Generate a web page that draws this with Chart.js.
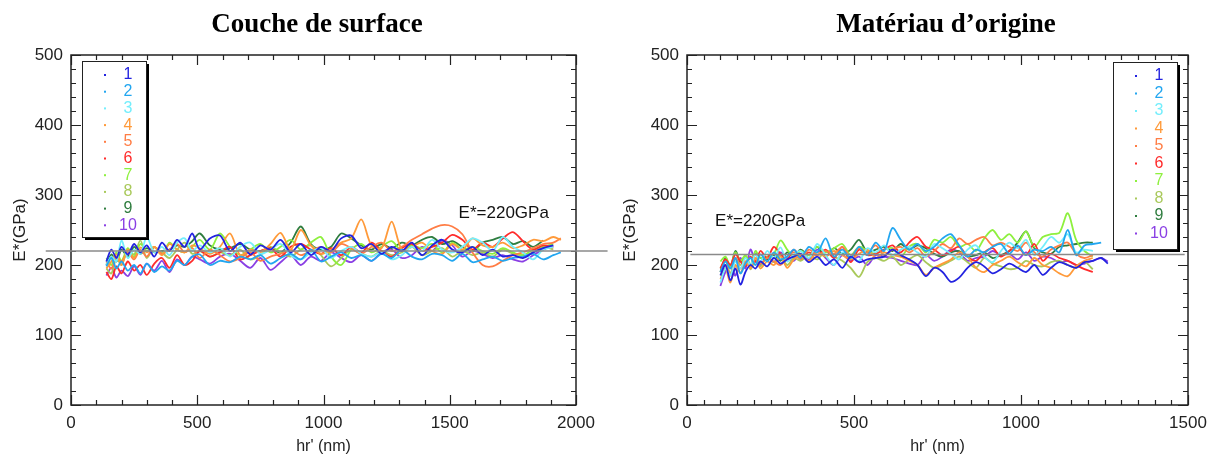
<!DOCTYPE html>
<html>
<head>
<meta charset="utf-8">
<script src="https://cdn.jsdelivr.net/npm/chart.js@4.4.1/dist/chart.umd.min.js"></script>
<style>
    body { margin: 0; background: #fff; }
    .panel { position: absolute; top: 0; height: 460px; }
    #left-panel { left: 0; width: 610px; }
    #right-panel { left: 610px; width: 605px; }
</style>
</head>
<body>
<div class="panel" id="left-panel"><canvas id="surface-chart" width="610" height="460"></canvas></div>
<div class="panel" id="right-panel"><canvas id="origin-chart" width="605" height="460"></canvas></div>
<script>
// series names and colours
var seriesNames = ["1", "2", "3", "4", "5", "6", "7", "8", "9", "10"];
var seriesColors = ["#2323e0", "#22a6f0", "#74eefc", "#ff9a3a", "#ff7d45", "#ff2b2b", "#8ef03e", "#a9c95b", "#2f7d3f", "#8a3fe4"];

// Couche de surface: hr' (nm) grid and E* (GPa) for each test
var hrSurface = [140,160,180,200,225,250,275,300,330,360,390,420,450,480,510,550,590,630,670,710,750,790,830,870,910,950,990,1030,1070,1110,1150,1190,1230,1270,1310,1350,1390,1430,1470,1510,1550,1590,1630,1670,1710,1750,1790,1830,1870,1910,1940];
var surf1 = [205,222,210,226,215,230,218,228,212,232,220,236,226,245,222,238,242,220,232,215,228,222,236,218,230,214,226,220,238,242,224,230,216,226,220,232,214,228,236,222,218,226,214,222,212,214,210,218,224,228,null];
var surf2 = [198,210,195,205,192,200,188,202,190,198,192,206,200,212,215,200,206,204,212,208,214,202,210,216,208,222,205,212,218,210,214,206,216,210,222,212,208,216,214,206,216,204,208,212,206,210,212,216,208,214,218];
var surf3 = [200,212,205,235,210,222,216,240,218,226,214,232,238,220,228,218,224,212,226,232,216,222,230,214,208,218,224,210,220,226,216,212,218,208,214,226,220,236,222,218,226,238,232,220,240,226,218,208,222,226,null];
var surf4 = [195,205,215,200,222,210,225,218,226,214,230,222,218,228,224,216,226,245,214,222,218,230,246,222,250,228,216,222,232,238,265,228,224,262,222,226,232,220,216,230,222,238,228,226,232,224,228,236,234,240,236];
var surf5 = [205,195,212,205,218,208,222,212,226,216,222,230,218,224,210,222,214,205,210,218,206,212,216,222,214,220,226,218,230,224,216,226,232,220,226,236,244,252,257,255,244,218,200,198,206,214,218,224,230,232,238];
var surf6 = [190,180,198,188,205,192,200,186,202,210,196,214,200,206,220,212,218,226,208,214,220,224,212,226,230,222,216,224,214,226,218,232,220,212,224,230,220,226,232,243,236,222,232,226,238,247,234,222,228,225,null];
var surf7 = [210,200,218,206,224,212,230,220,226,215,232,222,218,226,236,222,245,226,214,222,230,218,226,236,222,232,240,212,200,222,230,218,226,234,220,228,224,230,218,232,222,226,220,216,224,218,214,222,226,230,null];
var surf8 = [195,188,210,200,222,215,235,210,225,218,210,222,232,216,220,212,218,214,222,208,214,226,218,212,222,228,214,198,210,222,216,212,220,214,218,226,214,220,224,212,220,214,218,212,222,216,214,218,226,222,null];
var surf9 = [200,215,205,222,212,226,216,224,218,220,222,228,226,234,245,228,222,224,230,222,220,224,218,232,255,230,222,226,245,238,228,222,230,224,232,228,236,240,230,234,226,220,232,236,240,230,234,226,235,null,null];
var surf10 = [185,196,182,192,184,198,186,202,192,206,190,208,200,212,208,202,212,216,206,196,210,193,204,214,200,212,206,218,210,204,214,206,218,222,210,214,226,220,235,228,212,220,216,210,214,208,205,214,222,228,null];

// Matériau d'origine
var hrOrigin = [100,115,130,145,160,175,190,205,220,240,260,280,300,320,340,365,390,415,440,465,490,515,540,565,590,615,640,665,690,715,740,765,790,815,840,865,890,915,940,965,990,1015,1040,1065,1090,1115,1140,1165,1190,1215,1240,1260];
var orig1 = [185,200,178,195,172,190,200,195,205,198,210,202,208,212,216,204,212,200,208,196,212,204,208,210,212,222,214,208,200,184,196,190,176,182,196,204,198,188,194,202,196,190,200,186,196,204,200,196,204,206,210,202];
var orig2 = [190,205,195,210,188,202,210,200,215,205,218,208,212,222,210,226,218,238,212,222,210,226,214,232,220,253,236,222,230,220,226,238,244,228,212,222,218,226,230,216,228,214,222,220,226,218,250,214,228,230,232,null];
var orig3 = [175,195,185,205,195,210,200,215,205,220,210,225,205,215,220,210,230,214,200,218,212,206,224,218,228,214,222,226,218,212,230,224,216,208,222,228,212,204,220,232,224,236,214,226,240,232,244,218,222,220,null,null];
var orig4 = [180,195,175,200,188,205,195,210,195,205,200,212,196,208,214,206,218,212,220,214,208,216,222,210,218,214,212,206,200,186,196,202,208,218,212,196,190,200,206,212,204,198,210,200,196,188,184,198,206,210,null,null];
var orig5 = [190,200,185,210,195,205,198,215,202,210,205,200,212,218,208,222,214,220,216,226,212,224,218,228,214,222,226,218,224,212,220,230,224,238,230,236,240,228,232,226,220,232,218,212,222,228,232,216,210,214,null,null];
var orig6 = [195,208,200,215,205,198,212,205,220,210,226,216,208,222,212,218,214,222,210,226,204,222,214,216,222,228,218,232,240,226,222,214,220,226,212,206,218,224,212,220,226,214,230,206,216,210,206,200,194,190,null,null];
var orig7 = [205,212,198,218,206,214,200,220,210,212,216,235,222,212,220,214,226,218,224,230,214,226,220,216,222,224,212,226,230,218,236,232,240,226,230,220,238,250,236,244,232,248,226,240,244,246,274,236,220,212,null,null];
var orig8 = [195,206,188,210,200,212,194,206,198,212,204,214,200,210,206,214,208,220,212,206,196,183,204,210,206,212,200,208,214,204,196,200,206,212,204,196,210,202,198,194,196,206,200,198,204,206,200,196,204,194,null,null];
var orig9 = [190,210,198,220,205,212,200,216,210,208,214,206,218,212,222,214,226,212,224,216,222,236,218,222,226,220,230,222,228,224,216,212,218,220,212,214,218,210,214,220,232,248,224,218,216,226,228,230,232,232,null,null];
var orig10 = [170,190,200,185,210,195,222,205,200,212,204,218,210,206,216,208,222,210,200,214,206,212,200,214,212,210,206,202,200,214,206,212,222,218,206,210,212,220,214,216,208,218,206,212,210,204,206,200,202,206,210,205];

var surfSeries = [surf1, surf2, surf3, surf4, surf5, surf6, surf7, surf8, surf9, surf10];
var origSeries = [orig1, orig2, orig3, orig4, orig5, orig6, orig7, orig8, orig9, orig10];

var sansFont = '"Liberation Sans", Arial, sans-serif';

function buildDatasets(xs, series) {
    return series.map(function (ys, i) {
        var pts = [];
        ys.forEach(function (y, k) {
            if (y !== null && k < xs.length) pts.push({ x: xs[k], y: y });
        });
        return {
            label: seriesNames[i],
            data: pts,
            borderColor: seriesColors[i],
            backgroundColor: seriesColors[i],
            borderWidth: 1.8,
            pointRadius: 0,
            tension: 0.3,
            fill: false
        };
    });
}

// draws the frame, inward ticks, reference line, label, title and legend box
var decorPlugin = {
    id: 'decor',
    afterDraw: function (chart, args, o) {
        var ctx = chart.ctx, a = chart.chartArea;
        var xs = chart.scales.x, ys = chart.scales.y;
        ctx.save();

        // frame
        ctx.strokeStyle = '#222';
        ctx.lineWidth = 1.5;
        ctx.strokeRect(a.left, a.top, a.right - a.left, a.bottom - a.top);

        // inward ticks on all four sides
        ctx.lineWidth = 1.2;
        ctx.beginPath();
        for (var v = 0; v <= 500; v += 20) {
            var py = Math.round(ys.getPixelForValue(v)) + 0.5;
            var len = v % 100 === 0 ? 10 : 5;
            ctx.moveTo(a.left, py); ctx.lineTo(a.left + len, py);
            ctx.moveTo(a.right, py); ctx.lineTo(a.right - len, py);
        }
        for (var x = 0; x <= xs.max; x += o.minorX) {
            var px = Math.round(xs.getPixelForValue(x)) + 0.5;
            var l = x % 500 === 0 ? 10 : 5;
            ctx.moveTo(px, a.bottom); ctx.lineTo(px, a.bottom - l);
            ctx.moveTo(px, a.top); ctx.lineTo(px, a.top + l);
        }
        ctx.stroke();

        // reference line E* and its label
        var ry = ys.getPixelForValue(o.refValue);
        ctx.strokeStyle = '#8a8a8a';
        ctx.lineWidth = 1.5;
        ctx.beginPath();
        ctx.moveTo(xs.getPixelForValue(o.refFrom), ry);
        ctx.lineTo(xs.getPixelForValue(o.refTo), ry);
        ctx.stroke();
        ctx.fillStyle = '#111';
        ctx.font = '17px ' + sansFont;
        ctx.textAlign = 'left';
        ctx.textBaseline = 'middle';
        ctx.fillText('E*=220GPa', xs.getPixelForValue(o.labelAt[0]), ys.getPixelForValue(o.labelAt[1]));

        // title
        ctx.font = 'bold 27px "Liberation Serif", "Times New Roman", serif';
        ctx.textAlign = 'center';
        ctx.fillStyle = '#000';
        ctx.fillText(o.title, o.titleX, 25);

        // legend box with shadow
        var b = o.legend;
        ctx.fillStyle = '#000';
        ctx.fillRect(b.x + 3, b.y + 3, b.w, b.h);
        ctx.fillStyle = '#fff';
        ctx.fillRect(b.x, b.y, b.w, b.h);
        ctx.strokeStyle = '#222';
        ctx.lineWidth = 1;
        ctx.strokeRect(b.x + 0.5, b.y + 0.5, b.w, b.h);
        ctx.font = '16px ' + sansFont;
        chart.data.datasets.forEach(function (ds, i) {
            var yy = b.firstRow + i * b.step;
            ctx.fillStyle = ds.borderColor;
            ctx.fillRect(b.x + 22, yy - 1, 2, 2);
            ctx.textAlign = 'center';
            ctx.fillText(ds.label, b.x + 46, yy);
        });

        ctx.restore();
    }
};

function makeOptions(xMax, padRight, yWidth, decor) {
    var tickFont = { family: sansFont, size: 17 };
    return {
        responsive: false,
        animation: false,
        layout: { padding: { top: 55, right: padRight, bottom: 0, left: 0 } },
        plugins: {
            legend: { display: false },
            tooltip: { enabled: false },
            decor: decor
        },
        scales: {
            x: {
                type: 'linear',
                min: 0,
                max: xMax,
                grid: { display: false, drawTicks: false },
                border: { display: false },
                ticks: { stepSize: 500, padding: 8, color: '#222', font: tickFont,
                         callback: function (v) { return String(v); } },
                title: { display: true, text: "hr' (nm)", color: '#222', font: { family: sansFont, size: 16 }, padding: { top: 4, bottom: 4 } },
                afterFit: function (s) { s.height = 55; }
            },
            y: {
                min: 0,
                max: 500,
                grid: { display: false, drawTicks: false },
                border: { display: false },
                ticks: { stepSize: 100, padding: 8, color: '#222', font: tickFont,
                         callback: function (v) { return String(v); } },
                title: { display: true, text: 'E*(GPa)', color: '#222', font: { family: sansFont, size: 17 }, padding: { top: 10, bottom: 4 } },
                afterFit: function (s) { s.width = yWidth; }
            }
        }
    };
}

var ctx = document.getElementById('surface-chart').getContext('2d');
var chart = new Chart(ctx, {
    type: 'line',
    data: { datasets: buildDatasets(hrSurface, surfSeries) },
    options: makeOptions(2000, 34, 71, {
        title: 'Couche de surface',
        titleX: 317,
        minorX: 100,
        refValue: 220, refFrom: -100, refTo: 2125,
        labelAt: [1535, 274],
        legend: { x: 82, y: 61, w: 64, h: 176, firstRow: 75, step: 16.7 }
    }),
    plugins: [decorPlugin]
});

var ctx = document.getElementById('origin-chart').getContext('2d');
var chart = new Chart(ctx, {
    type: 'line',
    data: { datasets: buildDatasets(hrOrigin, origSeries) },
    options: makeOptions(1500, 27, 77, {
        title: 'Matériau d\u2019origine',
        titleX: 336,
        minorX: 50,
        refValue: 215, refFrom: 10, refTo: 1490,
        labelAt: [84, 263],
        legend: { x: 503, y: 62, w: 64, h: 187, firstRow: 76, step: 17.5 }
    }),
    plugins: [decorPlugin]
});
</script>
</body>
</html>
